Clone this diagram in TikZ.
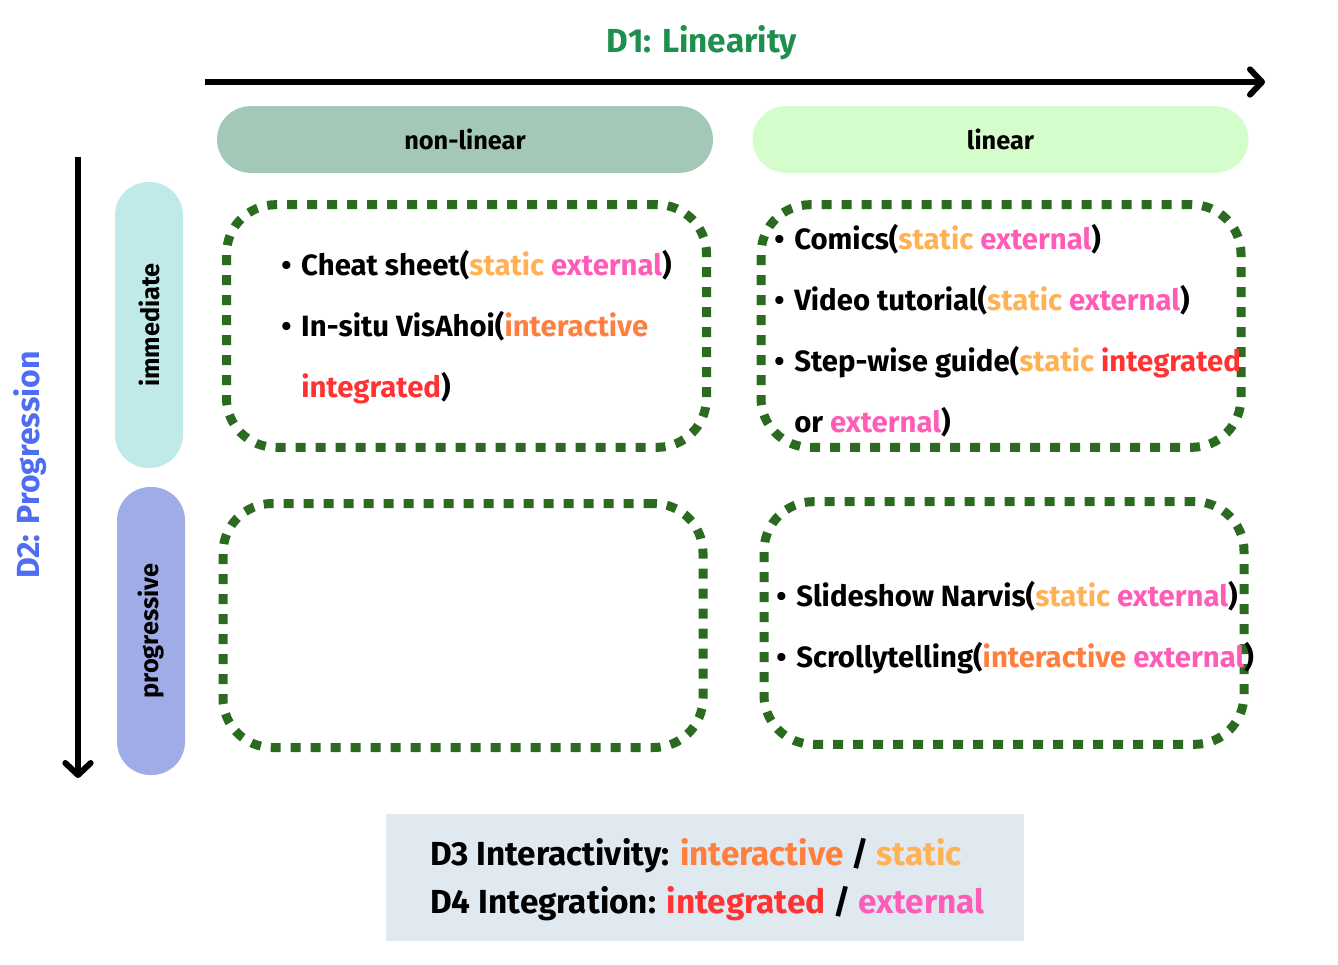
\documentclass[tikz,border=0pt]{standalone}
\usepackage{fontspec}
\setmainfont{Fira Sans}
\usetikzlibrary{positioning,arrows.meta,calc}
\definecolor{vgreen}{HTML}{1F8F4F}
\definecolor{vblue}{HTML}{4F6CF5}
\definecolor{vnonlin}{HTML}{A3C8B8}
\definecolor{vlin}{HTML}{D5FCCB}
\definecolor{vimm}{HTML}{C0EAEA}
\definecolor{vprog}{HTML}{A0ACE8}
\definecolor{vdots}{HTML}{2B6B20}
\definecolor{vlegend}{HTML}{E0E8F0}
\definecolor{vstatic}{HTML}{FFB255}
\definecolor{vexternal}{HTML}{FF5CB8}
\definecolor{vinteractive}{HTML}{FF7F3F}
\definecolor{vintegrated}{HTML}{FF3333}
\newcommand{\tstatic}{\textcolor{vstatic}{static}}
\newcommand{\texternal}{\textcolor{vexternal}{external}}
\newcommand{\tinteractive}{\textcolor{vinteractive}{interactive}}
\newcommand{\tintegrated}{\textcolor{vintegrated}{integrated}}
\newcommand{\bitem}{\makebox[15pt][l]{\textbullet}}
\newcommand{\bskip}{\hspace*{15pt}}

\begin{document}
\begin{tikzpicture}[x=0.75pt,y=-0.75pt,
	pill/.style={rounded corners=25pt, minimum width=372pt, minimum height=50pt, inner sep=0pt, font=\fontsize{19}{22}\selectfont\bfseries},
	cell/.style={draw=vdots, line width=6.75pt, dash pattern=on 7.5pt off 7.5pt, rounded corners=37pt, minimum width=360pt, minimum height=182pt, inner sep=0pt},
	items/.style={align=left, inner sep=0pt, anchor=north west, font=\fontsize{22}{45.75}\selectfont\bfseries},
	axis/.style={line width=4.5pt, -{Straight Barb[length=9pt, width=19pt, line cap=round, line join=round]}}
	]
	\useasboundingbox (0,0) rectangle (1338,964);
	
	\node[text=vgreen, font=\fontsize{25}{30}\selectfont\bfseries] (d1) at (702,43) {D1: Linearity};
	\coordinate (xs) at (205,82);
	\coordinate (xe) at (1265,82);
	\draw[axis] (xs) -- (xe);
	
	\node[text=vblue, rotate=90, font=\fontsize{24}{28}\selectfont\bfseries] (d2) at (30,465) {D2: Progression};
	\coordinate (ys) at (78,157);
	\coordinate (ye) at (78,778);
	\draw[axis] (ys) -- (ye);
	
	\node[pill, fill=vnonlin] (nonlin) at (465,139.5) {non-linear};
	\node[pill, fill=vlin] (lin) at (1000.5,139.5) {linear};
	\node[pill, fill=vimm, rotate=90, minimum width=214.5pt, minimum height=51pt] (imm) at (149,325) {immediate};
	\node[pill, fill=vprog, rotate=90, minimum width=216pt, minimum height=51pt] (prog) at (151,631) {progressive};
	
	\node[cell] (c11) at (466.5,326) {};
	\node[cell] (c12) at (1001,326) {};
	\node[cell, minimum height=183pt] (c21) at (463,625.5) {};
	\node[cell] (c22) at (1004,623) {};
	
	\node[items] (t11) at (281,250) {\bitem Cheat sheet(\tstatic{} \texternal)\\
		\bitem In-situ VisAhoi(\tinteractive\\
		\bskip\tintegrated)};
	\node[items] (t12) at (774,224) {\bitem Comics(\tstatic{} \texternal)\\
		\bitem Video tutorial(\tstatic{} \texternal)\\
		\bitem Step-wise guide(\tstatic{} \tintegrated\\
		\bskip or \texternal)};
	\node[items] (t22) at (776,581) {\bitem Slideshow Narvis(\tstatic{} \texternal)\\
		\bitem Scrollytelling(\tinteractive{} \texternal)};
	
	\node[fill=vlegend, minimum width=478.5pt, minimum height=95.25pt] (legend) at (705,877.5) {};
	\node[items, font=\fontsize{25}{36}\selectfont\bfseries] (key) at (430,838) {D3 Interactivity: \tinteractive{} / \tstatic\\
		D4 Integration: \tintegrated{} / \texternal};
\end{tikzpicture}
\end{document}
